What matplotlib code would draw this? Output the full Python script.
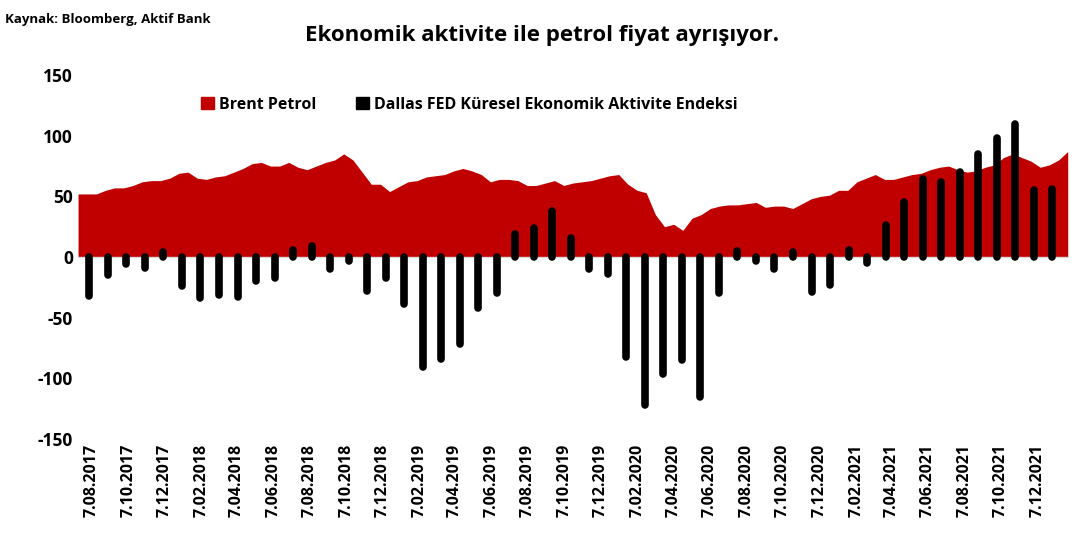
import matplotlib
matplotlib.use('Agg')
import matplotlib.pyplot as plt
from matplotlib.patches import Patch
import pandas as pd

plt.rcParams["font.family"] = "Open Sans"
plt.rcParams["axes.unicode_minus"] = False

# Brent, read off roughly twice a month (Jul 2017 - Jan 2022)
brent = [52, 52, 52, 55, 57, 57, 59, 62, 63, 63, 65,
         69, 70, 65, 64, 66, 67, 70, 73, 77, 78, 75, 75, 78, 74, 72, 75, 78, 80, 85, 80, 70, 60, 60, 54,
         58, 62, 63, 66, 67, 68, 71, 73, 71, 68, 62, 64, 64, 63, 59, 59, 61, 63, 59, 61, 62, 63, 65, 67,
         68, 60, 55, 53, 35, 25, 27, 22, 32, 35, 40, 42, 43, 43, 44, 45, 41, 42, 42, 40, 44, 48, 50, 51,
         55, 55, 62, 65, 68, 64, 64, 66, 68, 69, 72, 74, 75, 72, 70, 71, 74, 76, 82, 85, 82, 79, 74, 76,
         80, 87]
brent_dates = pd.date_range("2017-07-15", "2022-01-27", periods=len(brent))

# Dallas FED global economic activity index, monthly
dallas = [-32, -15, -6, -9, 4, -24, -34, -31, -33, -20, -17, 6, 9, -10, -3, -28, -17,
          -39, -91, -84, -72, -42, -30, 19, 24, 38, 16, -10, -14,
          -82, -122, -96, -85, -115, -30, 5, -3, -10, 4, -29, -23,
          6, -5, 26, 45, 64, 62, 70, 85, 98, 110, 55, 56]
dallas_dates = pd.date_range("2017-08-03", periods=len(dallas), freq="31D")

tick_dates = pd.date_range("2017-08-01", "2021-12-01", freq="2MS") + pd.Timedelta(days=6)
tick_labels = ["7.%02d.%d" % (d.month, d.year) for d in tick_dates]

red = "#C00000"
fig = plt.figure(figsize=(10.84, 5.4), dpi=100)
ax = fig.add_axes([0.072, 0.187, 0.913, 0.674])

ax.fill_between(brent_dates, 0, brent, color=red, linewidth=0, zorder=1)
ax.axhline(0, color="#d9d9d9", linewidth=1, zorder=2)
lc = ax.vlines(dallas_dates, 0, dallas, colors="black", linewidth=5.5, zorder=3)
lc.set_capstyle("round")

ax.set_ylim(-150, 150)
ax.set_yticks(range(-150, 151, 50))
ax.set_xlim(pd.Timestamp("2017-07-15"), pd.Timestamp("2022-01-27"))
ax.set_xticks(tick_dates)
ax.set_xticklabels(tick_labels, rotation=90)
ax.tick_params(axis="x", length=0, labelsize=11.5)
ax.tick_params(axis="y", length=0, labelsize=12.5)
for lab in ax.get_xticklabels() + ax.get_yticklabels():
    lab.set_fontweight("bold")
for s in ax.spines.values():
    s.set_visible(False)

handles = [Patch(color=red), Patch(color="black")]
ax.legend(handles, ["Brent Petrol", "Dallas FED Küresel Ekonomik Aktivite Endeksi"],
          loc="upper left", bbox_to_anchor=(0.11, 0.98), ncol=2, frameon=False,
          prop={"weight": "bold", "size": 11.5}, handlelength=0.8, handleheight=0.8,
          handletextpad=0.3, columnspacing=2.5)

fig.text(0.005, 0.975, "Kaynak: Bloomberg, Aktif Bank", fontsize=9.5, fontweight="bold", va="top")
fig.text(0.5, 0.935, "Ekonomik aktivite ile petrol fiyat ayrışıyor.", fontsize=16,
         fontweight="bold", ha="center", va="center")

fig.savefig("out.png", dpi=100)
